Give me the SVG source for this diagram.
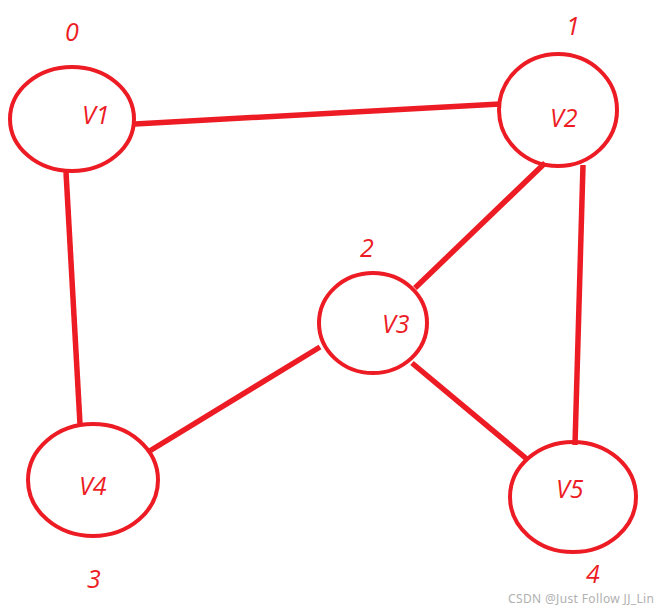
<svg xmlns="http://www.w3.org/2000/svg" width="660" height="612" viewBox="0 0 660 612">
<style>
.n{fill:none;stroke:#ED1C24;stroke-width:4}
.e{stroke:#ED1C24;stroke-width:5.5;stroke-linecap:butt}
.t{fill:#ED1C24;font-family:"Open Sans",sans-serif;font-style:italic;font-size:25px}
.w{fill:#B0B0B0;font-family:"Noto Sans",sans-serif;font-size:12px}
</style>
<rect width="660" height="612" fill="#fff"/>
<g id="edges">
<line class="e" x1="135" y1="124" x2="500" y2="104"/>
<line class="e" x1="66" y1="172" x2="80" y2="424"/>
<line class="e" x1="545" y1="163" x2="415" y2="288"/>
<line class="e" x1="583" y1="165" x2="575" y2="445"/>
<line class="e" x1="320" y1="347" x2="148" y2="452"/>
<line class="e" x1="412" y1="363" x2="528" y2="460"/>
</g>
<g id="v1"><ellipse class="n" cx="72" cy="119" rx="62" ry="52"/><text class="t" x="82" y="124">V1</text><text class="t" x="65" y="41">0</text></g>
<g id="v2"><ellipse class="n" cx="558" cy="110" rx="59" ry="56"/><text class="t" x="550" y="127">V2</text><text class="t" x="566" y="35">1</text></g>
<g id="v3"><ellipse class="n" cx="373" cy="323" rx="54" ry="50"/><text class="t" x="382" y="333">V3</text><text class="t" x="360" y="257">2</text></g>
<g id="v4"><ellipse class="n" cx="93" cy="480" rx="65" ry="56"/><text class="t" x="79" y="495">V4</text><text class="t" x="87" y="588">3</text></g>
<g id="v5"><ellipse class="n" cx="573" cy="497" rx="63" ry="55"/><text class="t" x="556" y="498">V5</text><text class="t" x="586" y="583">4</text></g>
<text class="w" x="508" y="603" textLength="146" lengthAdjust="spacing">CSDN @Just Follow  JJ_Lin</text>
</svg>
